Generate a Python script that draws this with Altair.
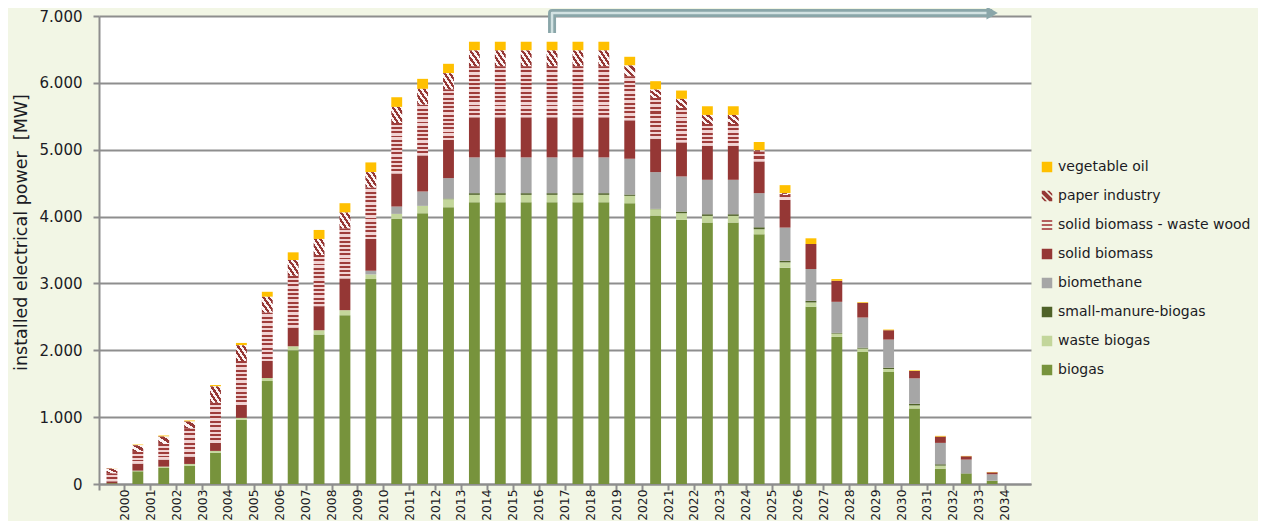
import altair as alt
import pandas as pd

# ---------------- data (MW) ----------------
years = [str(y) for y in range(2000, 2035)]
biogas = [10, 190, 240, 275, 465, 960, 1540, 2000, 2235, 2525, 3065, 3965, 4050, 4140,
          4215, 4215, 4215, 4215, 4215, 4215, 4200, 4015, 3950, 3910, 3910, 3735, 3235,
          2650, 2200, 1975, 1675, 1130, 230, 155, 50]
waste_biogas = [0, 10, 20, 25, 30, 30, 45, 60, 65, 75, 70, 75, 110, 120,
                110, 110, 110, 110, 110, 110, 110, 95, 100, 100, 100, 75, 80,
                65, 50, 50, 45, 45, 45, 0, 0]
small_manure = [0, 0, 0, 0, 0, 0, 0, 0, 0, 0, 0, 0, 0, 10,
                25, 25, 25, 25, 25, 25, 20, 5, 25, 25, 25, 30, 25,
                25, 10, 15, 20, 25, 20, 5, 0]
biomethane = [0, 0, 0, 0, 0, 0, 0, 0, 0, 0, 55, 110, 215, 305,
              535, 535, 535, 535, 535, 535, 535, 550, 525, 515, 515, 510, 495,
              475, 465, 450, 420, 380, 320, 205, 95]
solid_biomass = [30, 105, 105, 110, 120, 195, 255, 280, 360, 475, 475, 495, 540, 570,
                 600, 600, 600, 600, 600, 600, 575, 500, 510, 510, 510, 475, 415,
                 375, 315, 220, 140, 110, 95, 50, 30]
waste_wood = [120, 175, 235, 420, 600, 655, 725, 775, 765, 750, 770, 755, 760, 760,
              765, 765, 765, 765, 765, 765, 660, 610, 515, 325, 325, 150, 75,
              0, 0, 0, 0, 0, 0, 0, 0]
paper_industry = [70, 100, 110, 105, 245, 235, 235, 235, 240, 235, 230, 240, 235, 240,
                  235, 235, 235, 235, 235, 235, 160, 125, 135, 135, 135, 15, 25,
                  0, 0, 0, 0, 0, 0, 0, 0]
vegetable_oil = [5, 10, 15, 15, 20, 35, 75, 115, 135, 140, 145, 145, 150, 140,
                 130, 130, 130, 130, 130, 130, 130, 125, 125, 130, 130, 125, 120,
                 85, 25, 10, 10, 10, 10, 5, 5]

categories = ["biogas", "waste biogas", "small-manure-biogas", "biomethane",
              "solid biomass", "solid biomass - waste wood", "paper industry",
              "vegetable oil"]
series = [biogas, waste_biogas, small_manure, biomethane, solid_biomass,
          waste_wood, paper_industry, vegetable_oil]
legend_order = list(reversed(categories))
legend_colors = ["#ffc000", "#953735", "#b4605e", "#953735", "#a6a6a6",
                 "#4f6228", "#c3d69b", "#77933c"]
cat_color = dict(zip(legend_order, legend_colors))

# arrow annotation (category, MW)
arrow_years = ["2017", "2017", "2034"]
arrow_vals = [6745, 7045, 7045]

# ---------------- table ----------------
rows = []
for i, yr in enumerate(years):
    for k, (cat, vals) in enumerate(zip(categories, series)):
        rows.append({"year": yr, "cat": cat, "value": vals[i], "order": k})
df = pd.DataFrame(rows)
# stripe counts (style only) for the patterned series
df["nstripes"] = 0
ww = df["cat"] == "solid biomass - waste wood"
pp = df["cat"] == "paper industry"
df.loc[ww, "nstripes"] = (df.loc[ww, "value"] / 65).round().clip(lower=1).astype(int)
df.loc[pp, "nstripes"] = (df.loc[pp, "value"] / 75).round().clip(lower=1).astype(int)

arrow_df = pd.DataFrame({"year": arrow_years, "v": arrow_vals, "o": [0, 1, 2]})

# ---------------- scales / axes ----------------
W, H = 932, 468
x_domain = years + ["2035"]
step = W / len(x_domain)
x_scale = alt.Scale(domain=x_domain, paddingInner=0, paddingOuter=0)
y_scale = alt.Scale(domain=[0, 7000], nice=False, zero=True)

FONT = "DejaVu Sans"
TXT = "#1b1b24"
GRID = "#8e8e8e"
YTITLE = "installed electrical power\u00a0 [MW]"

x_axis = alt.Axis(
    title=None, bandPosition=0, labelOffset=step / 2, labelAngle=270,
    labelAlign="right", labelBaseline="middle", labelPadding=-1,
    labelFont=FONT, labelFontSize=12.3, labelColor=TXT,
    labelExpr="datum.value == '2035' ? '' : datum.label",
    ticks=True, tickSize=6, tickWidth=2, tickColor=GRID,
    domain=True, domainColor=GRID, domainWidth=2, grid=False,
    labelOverlap=False,
)
y_axis = alt.Axis(
    title=YTITLE, titleFont=FONT, titleFontSize=17.5,
    titleFontWeight="normal", titleColor=TXT, titlePadding=9, titleY=216,
    values=list(range(0, 7001, 1000)),
    labelExpr="replace(format(datum.value, ','), ',', '.')",
    labelFont=FONT, labelFontSize=15, labelColor=TXT, labelPadding=11,
    ticks=True, tickSize=6, tickWidth=2, tickColor=GRID,
    domain=True, domainColor=GRID, domainWidth=2,
    grid=True, gridColor=GRID, gridWidth=2,
)

color_scale = alt.Scale(domain=legend_order, range=legend_colors)

paper_sym = ("M-1,-1L-0.45,-1L1,0.45L1,1L0.45,1L-1,-0.45Z "
             "M0,-1L0.45,-1L1,-0.45L1,0Z M-1,0L-1,0.45L-0.45,1L0,1Z")
wood_sym = "M-1,-0.95H1V-0.55H-1Z M-1,-0.2H1V0.2H-1Z M-1,0.55H1V0.95H-1Z"
shape_scale = alt.Scale(domain=legend_order,
                        range=["square", paper_sym, wood_sym, "square", "square",
                               "square", "square", "square"])

BAR_W = alt.RelativeBandSize(0.42)


def X(field="year:N"):
    return alt.X(field, scale=x_scale, axis=x_axis)


def Y(field):
    return alt.Y(field, scale=y_scale, axis=y_axis, title=YTITLE)


base = alt.Chart(df).transform_stack(
    stack="value", groupby=["year"],
    sort=[alt.SortField("order", order="ascending")],
    as_=["y0", "y1"],
)

solid_cats = ["biogas", "waste biogas", "small-manure-biogas", "biomethane",
              "solid biomass", "vegetable oil"]

layers = []
for cat in solid_cats:
    layers.append(
        base.transform_filter((alt.datum.cat == cat) & (alt.datum.value > 0))
        .mark_bar(width=BAR_W, fill=cat_color[cat])
        .encode(x=X(), y=Y("y1:Q"), y2="y0:Q")
    )


def stripes(n, c1, c2, frac=0.5):
    stops = []
    for k in range(n):
        a, m, b = k / n, (k + frac) / n, (k + 1) / n
        stops += [alt.GradientStop(offset=a, color=c1), alt.GradientStop(offset=m, color=c1),
                  alt.GradientStop(offset=m, color=c2), alt.GradientStop(offset=b, color=c2)]
    return stops


for cat, colA, colB, diag in [
    ("solid biomass - waste wood", "#9e3c3a", "#f1d3d3", False),
    ("paper industry", "#953735", "#fbf3f3", True),
]:
    ns = sorted(df.loc[(df["cat"] == cat) & (df["value"] > 0), "nstripes"].unique())
    for n in ns:
        n = int(n)
        if diag:
            grad = alt.LinearGradient(gradient="linear", stops=stripes(n + 1, colA, colB),
                                      x1=0, y1=1, x2=1, y2=0)
        else:
            grad = alt.LinearGradient(gradient="linear", stops=stripes(n, colA, colB, 0.45),
                                      x1=0, y1=0, x2=0, y2=1)
        layers.append(
            base.transform_filter(
                (alt.datum.cat == cat) & (alt.datum.nstripes == n) & (alt.datum.value > 0)
            ).mark_bar(width=BAR_W, fill=grad)
            .encode(x=X(), y=Y("y1:Q"), y2="y0:Q")
        )

leg = alt.Legend(
    title=None, orient="none", legendX=941, legendY=144,
    labelFont=FONT, labelFontSize=14, labelColor=TXT, labelOffset=4,
    rowPadding=15, symbolSize=110, symbolOpacity=1, symbolStrokeWidth=0,
    padding=0, labelLimit=260)

legend_layer = base.transform_filter(alt.datum.year == "2000").mark_point(
    filled=True, opacity=0, size=110
).encode(
    x=X(), y=Y("y1:Q"),
    color=alt.Color("cat:N", scale=color_scale, legend=leg),
    shape=alt.Shape("cat:N", scale=shape_scale, legend=leg),
)
layers.append(legend_layer)

arrow_base = alt.Chart(arrow_df)
arrow_outer = arrow_base.mark_line(stroke="#8aa6a9", strokeWidth=8, strokeJoin="round",
                                   strokeCap="butt").encode(x=X(), y=Y("v:Q"), order="o:Q")
arrow_inner = arrow_base.mark_line(stroke="#d2e2e2", strokeWidth=2.5, strokeJoin="round",
                                   strokeCap="butt").encode(x=X(), y=Y("v:Q"), order="o:Q")
arrow_head = arrow_base.transform_filter(alt.datum.o == 2).mark_point(
    shape="triangle-right", filled=True, size=170, color="#8aa6a9", opacity=1
).encode(x=X(), y=Y("v:Q"))
layers += [arrow_outer, arrow_inner, arrow_head]

chart = alt.layer(*layers).properties(
    width=W, height=H,
    autosize=alt.AutoSizeParams(type="none"),
    padding={"left": 91, "top": 8, "right": 227, "bottom": 37},
    background="#f2f6e5",
).configure_view(stroke=None, fill="white")

chart.save("out.html", embed_options={"renderer": "svg", "actions": False})
